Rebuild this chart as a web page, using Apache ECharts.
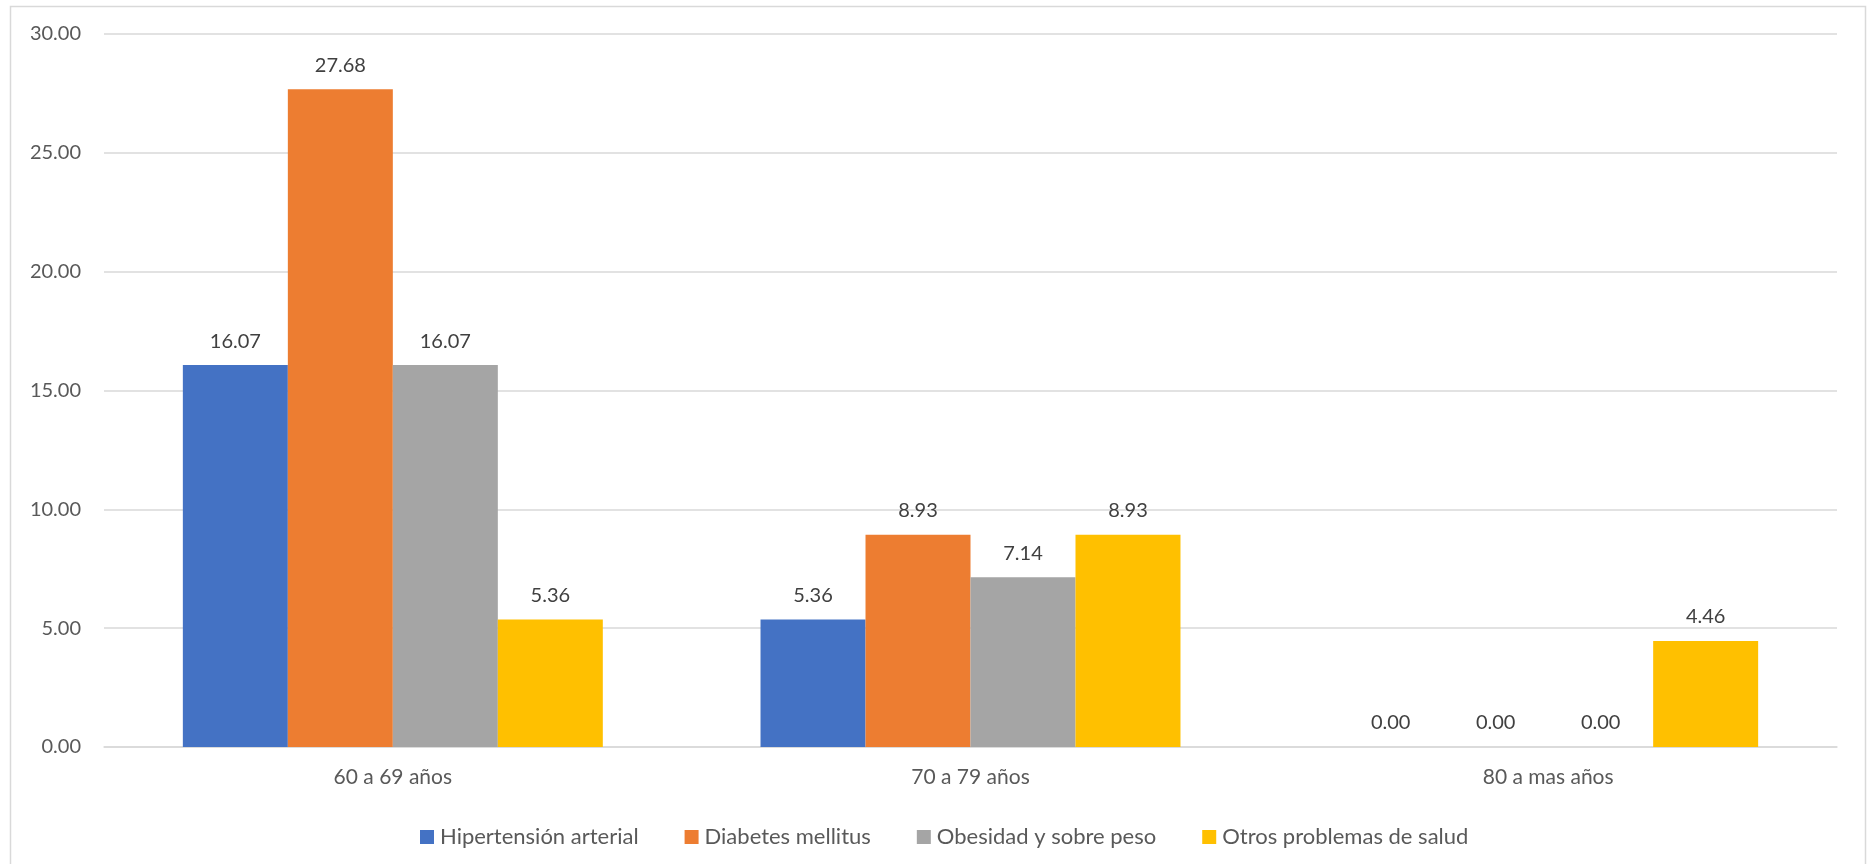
<!DOCTYPE html>
<html>
<head>
<meta charset="utf-8">
<script src="https://cdn.jsdelivr.net/npm/echarts@6/dist/echarts.min.js"></script>
<style>
html,body{margin:0;padding:0;background:#fff;}
#main{width:1869px;height:864px;}
</style>
</head>
<body>
<div id="main"></div>
<script>
const categories = ['60 a 69 años', '70 a 79 años', '80 a mas años'];
const seriesNames = ['Hipertensión arterial', 'Diabetes mellitus', 'Obesidad y sobre peso', 'Otros problemas de salud'];
const hipertension = [16.07, 5.36, 0.00];
const diabetes = [27.68, 8.93, 0.00];
const obesidad = [16.07, 7.14, 0.00];
const otros = [5.36, 8.93, 4.46];
const yTicks = { min: 0, max: 30, interval: 5 };

const colors = ['#4472C4', '#ED7D31', '#A5A5A5', '#FFC000'];
const FONT = 'Lato';
const textColor = '#595959';

const chart = echarts.init(document.getElementById('main'), null, { renderer: 'canvas' });
const values = [hipertension, diabetes, obesidad, otros];

const option = {
  animation: false,
  backgroundColor: '#fff',
  textStyle: { fontFamily: FONT },
  graphic: [{
    type: 'rect',
    shape: { x: 10.5, y: 6.5, width: 1855, height: 900 },
    style: { fill: 'none', stroke: '#D9D9D9', lineWidth: 1.5 },
    silent: true
  }],
  grid: { left: 104, right: 32, top: 34, bottom: 117, containLabel: false },
  legend: {
    left: 415,
    top: 821,
    itemWidth: 14,
    itemHeight: 14,
    itemGap: 46,
    icon: 'rect',
    textStyle: { fontFamily: FONT, fontSize: 22, color: textColor, padding: [0, 0, 0, 1] },
    data: seriesNames
  },
  xAxis: {
    type: 'category',
    data: categories,
    axisLine: { lineStyle: { color: '#D9D9D9', width: 1.5 } },
    axisTick: { show: false },
    axisLabel: { fontFamily: FONT, fontSize: 21, color: textColor, margin: 20 }
  },
  yAxis: {
    type: 'value',
    min: yTicks.min,
    max: yTicks.max,
    interval: yTicks.interval,
    axisLine: { show: false },
    axisTick: { show: false },
    splitLine: { lineStyle: { color: '#D9D9D9', width: 1.5 } },
    axisLabel: { fontFamily: FONT, fontSize: 20, color: textColor, margin: 23, formatter: v => v.toFixed(2) }
  },
  series: seriesNames.map((name, i) => ({
    name: name,
    type: 'bar',
    data: values[i],
    barGap: '0%',
    barCategoryGap: '27.3%',
    itemStyle: { color: colors[i] },
    label: {
      show: true,
      position: 'top',
      distance: 14,
      fontFamily: FONT,
      fontSize: 20,
      color: '#404040',
      formatter: p => p.value.toFixed(2)
    }
  }))
};
chart.setOption(option);
</script>
</body>
</html>
